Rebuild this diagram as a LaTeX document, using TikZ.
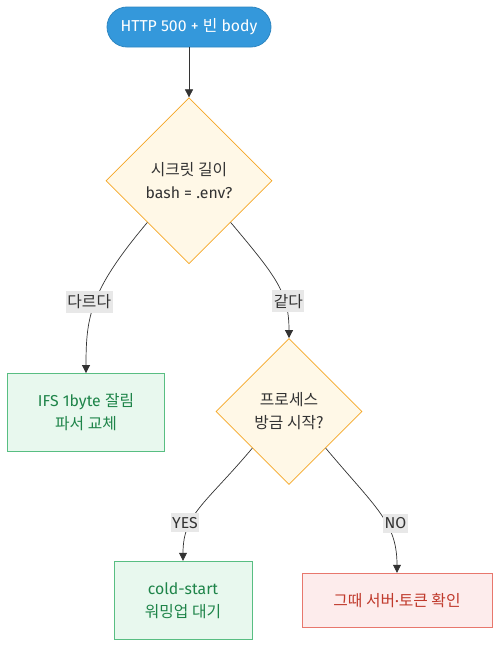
\documentclass[tikz,border=0pt]{standalone}
\usepackage{fontspec}
\setmainfont{Fira Sans}
\newfontfamily\kr{Noto Sans CJK KR}
\usepackage{xcolor}
\usetikzlibrary{positioning,shapes.geometric,arrows.meta}

\definecolor{startblue}{HTML}{3498DB}
\definecolor{startline}{HTML}{2E86C1}
\definecolor{decfill}{HTML}{FFF8E7}
\definecolor{decline}{HTML}{F5A623}
\definecolor{goodfill}{HTML}{E8F8EE}
\definecolor{goodline}{HTML}{58BE82}
\definecolor{goodtext}{HTML}{1E8449}
\definecolor{badfill}{HTML}{FDECEC}
\definecolor{badline}{HTML}{E8776D}
\definecolor{badtext}{HTML}{C0392B}
\definecolor{edgegray}{HTML}{333333}
\definecolor{lblgray}{HTML}{E8E8E8}

\begin{document}
\begin{tikzpicture}[
    x=1pt, y=-1pt,
    font=\fontsize{15.8}{23}\selectfont,
    start/.style={
        draw=startline,
        fill=startblue,
        text=white,
        rounded corners=20pt,
        line width=0.8pt,
        minimum width=164pt,
        minimum height=40pt
    },
    decision/.style={
        diamond,
        draw=decline,
        fill=decfill,
        text=edgegray,
        line width=0.7pt,
        inner sep=0pt,
        align=center
    },
    good/.style={
        draw=goodline,
        fill=goodfill,
        text=goodtext,
        line width=0.8pt,
        minimum height=78pt,
        align=center
    },
    check/.style={
        draw=badline,
        fill=badfill,
        text=badtext,
        line width=0.8pt,
        minimum width=190pt,
        minimum height=54pt,
        align=center
    },
    arrow/.style={-{Triangle[length=8pt,width=8pt]}, draw=edgegray, line width=0.7pt},
    lbl/.style={fill=lblgray, text=edgegray, inner xsep=1.5pt, inner ysep=4pt}
]
\useasboundingbox (0,0) rectangle (500,645);

\node[start] (start) at (189,27) {HTTP 500 + {\kr 빈} body};

\node[decision, minimum width=166pt, minimum height=166pt,
      below=50pt of start] (d1) {{\kr 시크릿 길이}\\bash = .env?};

\node[good, minimum width=157pt, below=109pt of d1, xshift=-103pt] (fix) {IFS 1byte {\kr 잘림}\\{\kr 파서 교체}};

\node[decision, minimum width=146pt, minimum height=146pt,
      below=74pt of d1, xshift=100pt] (d2) {{\kr 프로세스}\\{\kr 방금 시작?}};

\node[good, minimum width=138pt, below=76pt of d2, xshift=-106pt] (warm) {cold-start\\{\kr 워밍업 대기}};
\node[check, below=88pt of d2, xshift=108pt] (server) {{\kr 그때 서버}·{\kr 토큰 확인}};

\draw[arrow] (start) -- (d1);

\draw[arrow] (d1.south west)
    to[out=-130, in=90, out looseness=1.4, in looseness=0.9]
    node[lbl, pos=0.5, xshift=-6pt] {\kr 다르다} (fix.north);
\draw[arrow] (d1.south east)
    to[out=-50, in=90, out looseness=1.4, in looseness=0.9]
    node[lbl, pos=0.68, xshift=4pt] {\kr 같다} (d2.north);

\draw[arrow] (d2.south west)
    to[out=-130, in=90, out looseness=1.4, in looseness=0.9]
    node[lbl, pos=0.66, xshift=-6pt] {YES} (warm.north);
\draw[arrow] (d2.south east)
    to[out=-50, in=90, out looseness=1.4, in looseness=0.9]
    node[lbl, pos=0.62, xshift=8pt, yshift=3pt] {NO} (server.north);

\end{tikzpicture}
\end{document}
